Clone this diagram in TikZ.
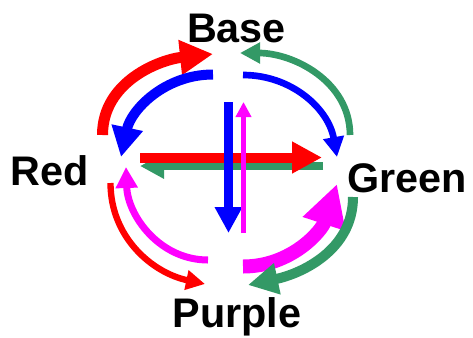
\documentclass[tikz,border=0pt]{standalone}
\usepackage{xcolor}
\usepackage{fontspec}
\usepackage{tikz}
\usetikzlibrary{arrows.meta}
\setmainfont{Liberation Sans}
\definecolor{seagreen}{RGB}{51,153,102}
\definecolor{fuchsia}{RGB}{255,0,255}

\begin{document}
\begin{tikzpicture}[x=0.75pt, y=0.75pt,
    lbl/.style={anchor=base, font=\fontsize{31}{37}\selectfont\bfseries},
    arr/.style={line width=#1, -{Triangle[length=0pt 3, width=0pt 3]}}]
    \useasboundingbox (0, 0) rectangle (473, 337);

    \node[lbl] at (236.5, 295) (base) {Base};
    \node[lbl] at (50, 152) (red) {Red};
    \node[lbl] at (407, 145) (green) {Green};
    \node[lbl] at (237, 10) (purple) {Purple};

    \coordinate (rbs) at (102.5, 202);
    \coordinate (rbe) at (213, 283);
    \coordinate (brs) at (213, 262.5);
    \coordinate (bre) at (121, 180);
    \coordinate (bgs) at (243, 262);
    \coordinate (bge) at (337, 180);
    \coordinate (gbs) at (350, 202);
    \coordinate (gbe) at (240, 284);

    \coordinate (rgs) at (140, 179.5);
    \coordinate (rge) at (322, 179.5);
    \coordinate (grs) at (323, 171);
    \coordinate (gre) at (140, 171);
    \coordinate (bps) at (228.5, 235);
    \coordinate (bpe) at (228.5, 104);
    \coordinate (pbs) at (243.5, 104);
    \coordinate (pbe) at (243.5, 235);

    \coordinate (rps) at (110.5, 154);
    \coordinate (rpe) at (205, 53);
    \coordinate (prs) at (208, 77);
    \coordinate (pre) at (126, 170);
    \coordinate (pgs) at (243, 70.5);
    \coordinate (pge) at (337, 153);
    \coordinate (gps) at (353, 140);
    \coordinate (gpe) at (248, 52);

    \draw[arr=8.25pt, red] (rbs) to[out=90, in=186] (rbe);
    \draw[arr=7.5pt, blue] (brs) to[out=180, in=78] (bre);
    \draw[arr=5pt, blue] (bgs) to[out=0, in=100] (bge);
    \draw[arr=5pt, seagreen] (gbs) to[out=90, in=0] (gbe);

    \draw[arr=4.75pt, red] (rps) to[out=-90, in=168] (rpe);
    \draw[arr=5.25pt, fuchsia] (prs) to[out=180, in=-88] (pre);
    \draw[arr=10.5pt, fuchsia] (pgs) to[out=0, in=-108] (pge);
    \draw[arr=7.5pt, seagreen] (gps) to[out=-90, in=12] (gpe);

    \draw[arr=6pt, seagreen] (grs) -- (gre);
    \draw[arr=7.5pt, red] (rgs) -- (rge);
    \draw[arr=6.5pt, blue] (bps) -- (bpe);
    \draw[arr=3.75pt, fuchsia] (pbs) -- (pbe);
\end{tikzpicture}
\end{document}
